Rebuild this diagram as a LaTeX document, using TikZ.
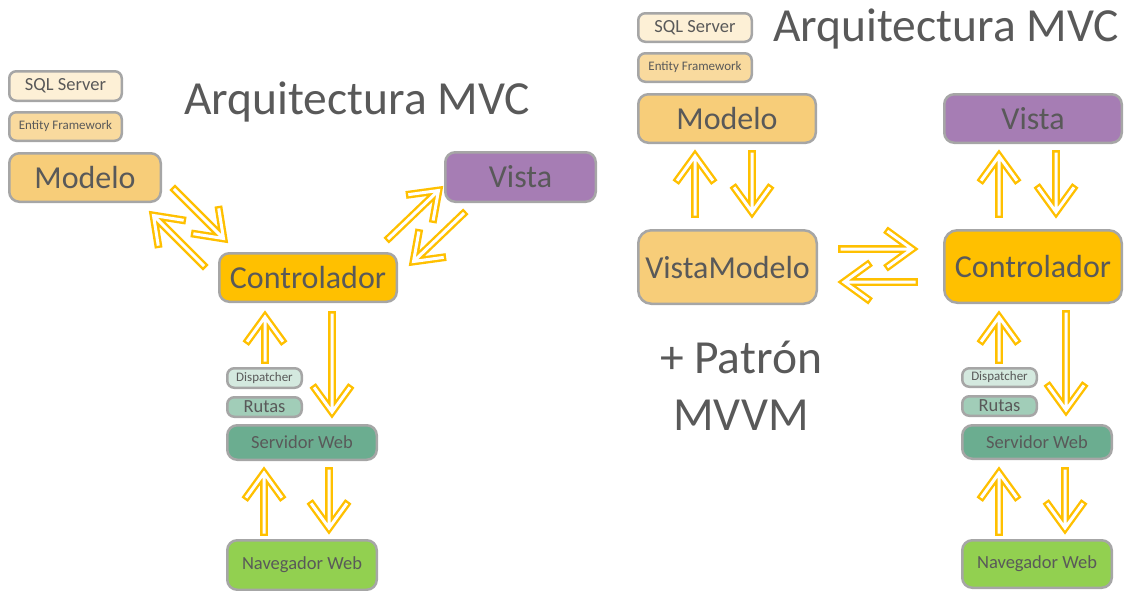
\documentclass[tikz,border=0pt]{standalone}
\usepackage{fontspec}
\setmainfont{Carlito}
\usetikzlibrary{calc}

\definecolor{txt}{HTML}{595959}
\definecolor{edge}{HTML}{A6A6A6}
\definecolor{arrowgold}{HTML}{FFC000}
\definecolor{sqlfill}{HTML}{FDF0D6}
\definecolor{effill}{HTML}{F9DA9E}
\definecolor{modfill}{HTML}{F7CD79}
\definecolor{ctrlfill}{HTML}{FFC000}
\definecolor{vistafill}{HTML}{A67DB4}
\definecolor{dispfill}{HTML}{D4E9DF}
\definecolor{rutfill}{HTML}{A1CDB8}
\definecolor{servfill}{HTML}{6BAD90}
\definecolor{navfill}{HTML}{92D050}

\tikzset{
  box/.style={draw=edge, line width=2.5pt, rounded corners=10pt, text=txt,
    inner sep=0pt, align=center},
  smallbox/.style={box, rounded corners=7pt},
  big/.style={font=\fontsize{32}{38}\selectfont},
  mid/.style={font=\fontsize{18.5}{22}\selectfont},
  tiny/.style={font=\fontsize{13}{16}\selectfont},
  title/.style={text=txt, inner sep=0pt, font=\fontsize{47.5}{57}\selectfont},
  hollow/.style={draw=arrowgold, double=white, double distance=3pt,
    line width=2.4pt, line cap=rect, line join=miter}
}

% outlined arrow with an open chevron head: #1 tail, #2 tip
\newcommand\hollowarrow[2]{%
  \draw[hollow] ($(#2)!4pt!(#1)$) -- (#1)
    ($(#2)!29pt!36:(#1)$) -- (#2) -- ($(#2)!29pt!-36:(#1)$);}

\begin{document}
\begin{tikzpicture}[x=1pt, y=-1pt]
\useasboundingbox (0,0) rectangle (1126,590);

% ---------- MVC ----------
\node[title, anchor=base west] (titleL) at (184,114) {Arquitectura MVC};

\node[smallbox, fill=sqlfill, mid, minimum width=112.5, minimum height=29.5] (sqlL) at (65.5,86) {SQL Server};
\node[smallbox, fill=effill, tiny, minimum width=112.5, minimum height=28.5] (efL) at (65.5,126.5) {Entity Framework};
\node[box, fill=modfill, big, minimum width=151.5, minimum height=48.5] (modL) at (85,177.5) {Modelo};
\node[box, fill=ctrlfill, big, minimum width=177.5, minimum height=48.5] (ctrlL) at (308,277.5) {Controlador};
\node[box, fill=vistafill, big, minimum width=150.5, minimum height=49.5] (vistaL) at (520.5,177) {Vista};
\node[smallbox, fill=dispfill, tiny, minimum width=74.5, minimum height=19.5] (dispL) at (264.5,378) {Dispatcher};
\node[smallbox, fill=rutfill, mid, minimum width=74.5, minimum height=19.5] (rutL) at (264.5,407) {Rutas};
\node[box, fill=servfill, mid, minimum width=149.5, minimum height=34.5] (servL) at (302,442.5) {Servidor Web};
\node[box, fill=navfill, mid, minimum width=149.5, minimum height=49.5] (navL) at (302,565) {Navegador Web};

% arrow end points
\coordinate (aL1) at (175,190);   \coordinate (bL1) at (223.5,238.5);
\coordinate (aL2) at (203,265);   \coordinate (bL2) at (153.5,215.5);
\coordinate (aL3) at (389,238);   \coordinate (bL3) at (438.5,190.5);
\coordinate (aL4) at (463,214);   \coordinate (bL4) at (413.5,261.5);
\coordinate (aL5) at (265,360);   \coordinate (bL5) at (265,317);
\coordinate (aL6) at (332,315);   \coordinate (bL6) at (332,412);
\coordinate (aL7) at (264,532);   \coordinate (bL7) at (264,473);
\coordinate (aL8) at (329,471);   \coordinate (bL8) at (329,528);

\hollowarrow{aL1}{bL1}
\hollowarrow{aL2}{bL2}
\hollowarrow{aL3}{bL3}
\hollowarrow{aL4}{bL4}
\hollowarrow{aL5}{bL5}
\hollowarrow{aL6}{bL6}
\hollowarrow{aL7}{bL7}
\hollowarrow{aL8}{bL8}

% ---------- MVC + MVVM ----------
\node[title, anchor=base west] (titleR) at (773,41) {Arquitectura MVC};
\node[title, align=center, anchor=base] (mvvm) at (741,430) {+ Patrón\\MVVM};

\node[smallbox, fill=sqlfill, mid, minimum width=113.5, minimum height=28.5] (sqlR) at (695,27.5) {SQL Server};
\node[smallbox, fill=effill, tiny, minimum width=113.5, minimum height=28.5] (efR) at (695,67.5) {Entity Framework};
\node[box, fill=modfill, big, minimum width=177.5, minimum height=48.5] (modR) at (727,118.5) {Modelo};
\node[box, fill=vistafill, big, minimum width=177.5, minimum height=48.5] (vistaR) at (1033,118.5) {Vista};
\node[box, fill=modfill, big, minimum width=178.5, minimum height=73.5, rounded corners=13pt] (vmR) at (727.5,267) {VistaModelo};
\node[box, fill=ctrlfill, big, minimum width=177.5, minimum height=72.5, rounded corners=13pt] (ctrlR) at (1033,266.5) {Controlador};
\node[smallbox, fill=dispfill, tiny, minimum width=74.5, minimum height=18.5] (dispR) at (999.5,377.5) {Dispatcher};
\node[smallbox, fill=rutfill, mid, minimum width=74.5, minimum height=19.5] (rutR) at (999.5,406) {Rutas};
\node[box, fill=servfill, mid, minimum width=149.5, minimum height=33.5] (servR) at (1037,442) {Servidor Web};
\node[box, fill=navfill, mid, minimum width=149.5, minimum height=47.5] (navR) at (1037,564) {Navegador Web};

\coordinate (aR1) at (695,214);   \coordinate (bR1) at (695,156);
\coordinate (aR2) at (752,154);   \coordinate (bR2) at (752,212);
\coordinate (aR3) at (999,214);   \coordinate (bR3) at (999,156);
\coordinate (aR4) at (1056,154);  \coordinate (bR4) at (1056,212);
\coordinate (aR5) at (842,249);   \coordinate (bR5) at (912,249);
\coordinate (aR6) at (914,282);   \coordinate (bR6) at (844,282);
\coordinate (aR7) at (999,360);   \coordinate (bR7) at (999,317);
\coordinate (aR8) at (1066,314);  \coordinate (bR8) at (1066,410);
\coordinate (aR9) at (999,532);   \coordinate (bR9) at (999,473);
\coordinate (aR10) at (1065,471); \coordinate (bR10) at (1065,528);

\hollowarrow{aR1}{bR1}
\hollowarrow{aR2}{bR2}
\hollowarrow{aR3}{bR3}
\hollowarrow{aR4}{bR4}
\hollowarrow{aR5}{bR5}
\hollowarrow{aR6}{bR6}
\hollowarrow{aR7}{bR7}
\hollowarrow{aR8}{bR8}
\hollowarrow{aR9}{bR9}
\hollowarrow{aR10}{bR10}
\end{tikzpicture}
\end{document}
